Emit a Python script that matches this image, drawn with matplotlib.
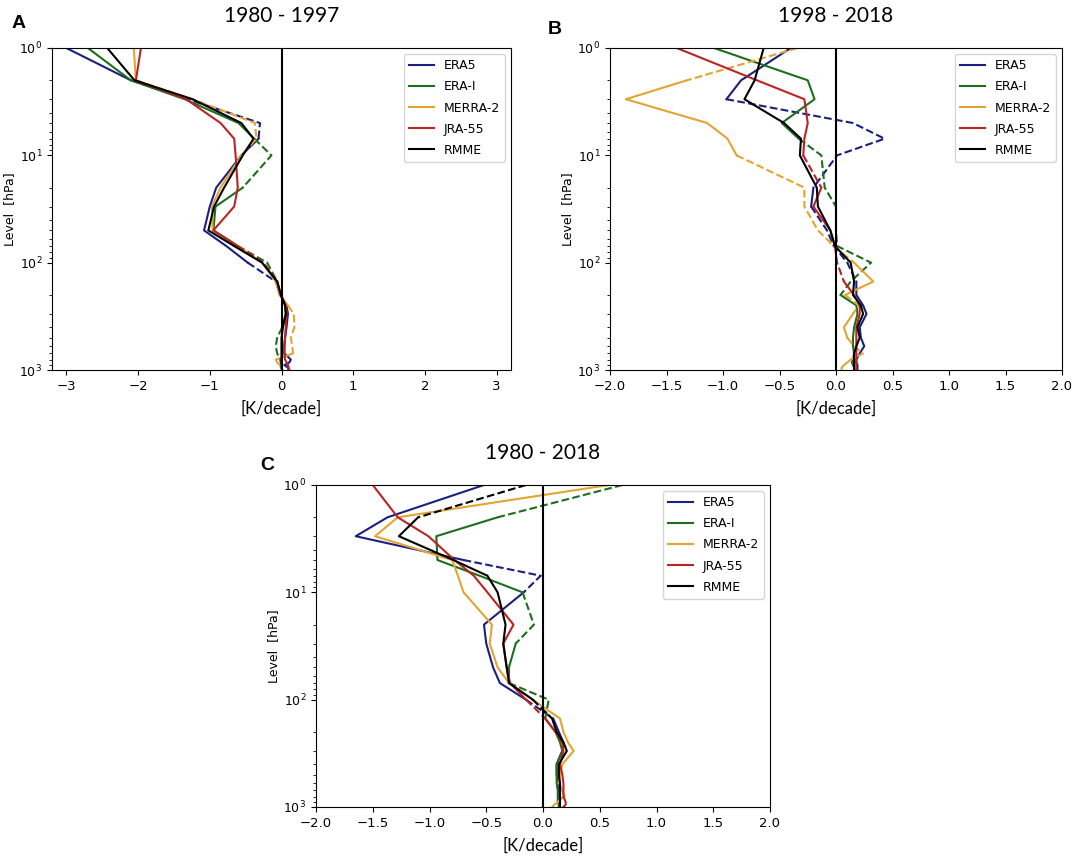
import matplotlib
matplotlib.use("Agg")
import matplotlib.pyplot as plt
from matplotlib.lines import Line2D

# pressure levels [hPa]
LEVELS = [1, 2, 3, 5, 7, 10, 20, 30, 50, 70, 100, 150, 200, 250, 300,
          400, 500, 600, 700, 800, 850, 900, 950, 1000]

NAMES = ["ERA5", "ERA-I", "MERRA-2", "JRA-55", "RMME"]
COLORS = ["#1b1f80", "#1e6e1e", "#e3a432", "#bb2424", "#000000"]

# 1980 - 1997 trends [K/decade]
A_ERA5 = [-3.0, -2.1, -1.31, -0.3, -0.32, -0.56, -0.91, -1.0, -1.08, -0.77, -0.47, -0.08,
          -0.01, 0.07, 0.09, 0.07, 0.05, 0.04, 0.04, 0.13, 0.11, 0.04, 0.09, 0.1]
A_ERAI = [-2.7, -2.1, -1.35, -0.6, -0.38, -0.14, -0.54, -0.92, -0.95, -0.61, -0.2, -0.06,
          -0.01, 0.05, 0.06, 0.01, -0.06, -0.08, -0.06, -0.02, -0.01, 0.0, 0.0, 0.01]
A_MERRA2 = [-2.06, -2.03, -1.24, -0.37, -0.35, -0.56, -0.85, -0.97, -0.96, -0.61, -0.27, -0.08,
            -0.03, 0.09, 0.17, 0.18, 0.13, 0.15, 0.16, -0.08, -0.06, -0.02, -0.01, 0.0]
A_JRA55 = [-1.96, -2.03, -1.33, -0.85, -0.66, -0.64, -0.61, -0.66, -0.95, -0.61, -0.25, -0.06,
           -0.01, 0.06, 0.07, 0.06, 0.05, 0.04, 0.04, 0.05, 0.07, 0.09, 0.1, 0.11]
A_RMME = [-2.43, -2.05, -1.24, -0.56, -0.39, -0.54, -0.8, -0.94, -1.02, -0.66, -0.27, -0.06,
          -0.01, 0.05, 0.06, 0.02, 0.0, 0.0, 0.0, 0.0, 0.0, 0.0, 0.0, 0.01]
# layers where the trend is not significant (drawn dashed)
A_NS = [[(2, 7), (100, 150)], [(7, 20), (70, 150), (400, 800)], [(2, 10), (250, 700)],
        [(70, 150)], []]

# 1998 - 2018
B_ERA5 = [-0.4, -0.84, -0.97, 0.15, 0.43, 0.01, -0.2, -0.22, -0.08, -0.02, 0.1, 0.18,
          0.18, 0.24, 0.27, 0.21, 0.22, 0.25, 0.21, 0.18, 0.18, 0.19, 0.19, 0.19]
B_ERAI = [-1.08, -0.25, -0.19, -0.48, -0.33, -0.13, -0.1, 0.0, 0.0, 0.01, 0.31, 0.13,
          0.04, 0.18, 0.19, 0.16, 0.15, 0.15, 0.16, 0.15, 0.14, 0.15, 0.16, 0.16]
B_MERRA2 = [-0.34, -1.32, -1.86, -1.14, -0.96, -0.88, -0.28, -0.28, -0.16, -0.02, 0.16, 0.33,
            0.08, 0.2, 0.15, 0.07, 0.1, 0.16, 0.24, 0.13, 0.1, 0.07, 0.05, 0.05]
B_JRA55 = [-1.41, -0.7, -0.28, -0.25, -0.28, -0.29, -0.13, -0.2, -0.05, -0.01, 0.01, 0.07,
           0.16, 0.21, 0.21, 0.18, 0.18, 0.18, 0.18, 0.18, 0.18, 0.18, 0.18, 0.18]
B_RMME = [-0.64, -0.72, -0.81, -0.46, -0.31, -0.32, -0.17, -0.16, -0.05, -0.01, 0.13, 0.16,
          0.15, 0.22, 0.24, 0.19, 0.21, 0.18, 0.16, 0.16, 0.16, 0.16, 0.16, 0.16]
B_NS = [[(3, 20), (30, 150)], [(7, 200)], [(1, 2), (10, 100), (200, 300), (500, 800)],
        [(10, 20), (70, 150)], []]

# 1980 - 2018
C_ERA5 = [-0.52, -1.37, -1.65, -0.7, -0.02, -0.17, -0.52, -0.5, -0.44, -0.38, -0.15, 0.09,
          0.14, 0.18, 0.17, 0.12, 0.12, 0.14, 0.14, 0.14, 0.14, 0.14, 0.14, 0.14]
C_ERAI = [0.7, -0.4, -0.94, -0.93, -0.56, -0.18, -0.08, -0.24, -0.3, -0.3, 0.05, 0.02,
          0.11, 0.15, 0.17, 0.12, 0.12, 0.12, 0.13, 0.13, 0.13, 0.13, 0.14, 0.14]
C_MERRA2 = [0.58, -1.28, -1.48, -0.8, -0.75, -0.7, -0.45, -0.47, -0.4, -0.3, -0.09, 0.15,
            0.18, 0.22, 0.27, 0.17, 0.15, 0.14, 0.17, 0.19, 0.15, 0.13, 0.1, 0.08]
C_JRA55 = [-1.5, -1.28, -1.01, -0.78, -0.61, -0.49, -0.26, -0.35, -0.32, -0.29, -0.15, 0.02,
           0.11, 0.17, 0.18, 0.15, 0.17, 0.18, 0.18, 0.18, 0.19, 0.2, 0.2, 0.18]
C_RMME = [-0.15, -1.1, -1.27, -0.79, -0.49, -0.4, -0.33, -0.35, -0.32, -0.3, -0.09, 0.08,
          0.12, 0.18, 0.21, 0.14, 0.14, 0.15, 0.15, 0.15, 0.15, 0.15, 0.15, 0.15]
C_NS = [[(5, 10), (100, 150)], [(1, 2), (10, 30), (70, 150)], [], [(100, 150)],
        [(1, 2), (100, 150)]]

TITLES = ["1980 - 1997", "1998 - 2018", "1980 - 2018"]
LETTERS = ["A", "B", "C"]


def is_dashed(p0, p1, ns):
    for top, bot in ns:
        if top <= p0 and p1 <= bot:
            return True
    return False


def draw_profile(ax, vals, ns, color):
    styles = [is_dashed(LEVELS[i], LEVELS[i + 1], ns) for i in range(len(LEVELS) - 1)]
    start = 0
    for i in range(1, len(styles) + 1):
        if i == len(styles) or styles[i] != styles[start]:
            ls = "--" if styles[start] else "-"
            ax.plot(vals[start:i + 1], LEVELS[start:i + 1], color=color, ls=ls, lw=1.5)
            start = i


fig = plt.figure(figsize=(10.72, 8.63), dpi=100)
W, H = 1072, 863
boxes = [(52, 48, 511, 370), (610, 48, 1062, 370), (316, 485, 770, 807)]
panels = [
    [A_ERA5, A_ERAI, A_MERRA2, A_JRA55, A_RMME],
    [B_ERA5, B_ERAI, B_MERRA2, B_JRA55, B_RMME],
    [C_ERA5, C_ERAI, C_MERRA2, C_JRA55, C_RMME],
]
all_ns = [A_NS, B_NS, C_NS]
letter_pos = [(19, 23), (555, 29), (267, 465)]

for k in range(3):
    l, t, r, b = boxes[k]
    ax = fig.add_axes([l / W, 1 - b / H, (r - l) / W, (b - t) / H])
    for j in range(5):
        draw_profile(ax, panels[k][j], all_ns[k][j], COLORS[j])
    ax.axvline(0, color="black", lw=1.5)
    ax.set_yscale("log")
    ax.set_ylim(1000, 1)
    if k == 0:
        ax.set_xlim(-3.2, 3.2)
        ax.set_xticks([-3, -2, -1, 0, 1, 2, 3])
    else:
        ax.set_xlim(-2, 2)
        ax.set_xticks([-2, -1.5, -1, -0.5, 0, 0.5, 1, 1.5, 2])
    ax.tick_params(axis="x", labelsize=9.5)
    ax.tick_params(axis="y", labelsize=9)
    ax.set_ylabel("Level  [hPa]", fontsize=9, labelpad=2)
    ax.set_xlabel("[K/decade]", fontsize=12, family="Lato", labelpad=6)
    ax.set_title(TITLES[k], fontsize=15, family="Lato", pad=19)
    handles = [Line2D([0], [0], color=c, lw=1.5) for c in COLORS]
    ax.legend(handles, NAMES, loc="upper right", fontsize=9, labelspacing=0.65)
    fig.text(letter_pos[k][0] / W, 1 - letter_pos[k][1] / H, LETTERS[k],
             fontsize=14, fontweight="bold", family="Liberation Sans",
             ha="center", va="center")

fig.savefig("out.png", dpi=100)
